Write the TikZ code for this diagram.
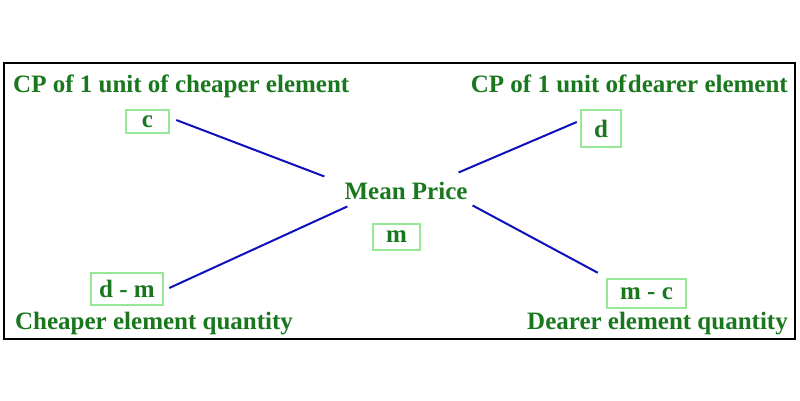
\documentclass[tikz,border=0pt]{standalone}
\usepackage{fontspec}
\setmainfont{Liberation Serif}
\definecolor{txtgreen}{RGB}{25,120,30}
\definecolor{boxgreen}{RGB}{150,232,150}
\definecolor{linkblue}{RGB}{15,15,190}
\begin{document}
\begin{tikzpicture}[x=1pt, y=-1pt]
\tikzstyle{heading} = [inner sep=0, text=txtgreen, font=\fontsize{25}{30}\selectfont\bfseries]
\tikzstyle{valbox}  = [rectangle, draw=boxgreen, line width=2.5pt, inner sep=0, text=txtgreen, font=\fontsize{25}{30}\selectfont\bfseries]
\tikzstyle{link}    = [draw=linkblue, line width=2pt]

\fill [white] (0,0) rectangle (800,400);
\useasboundingbox (0,0) rectangle (800,400);
\draw [line width=2pt] (4,63) rectangle (795,339);

\node (cheapcp) [heading, anchor=base west] at (13,92)  {CP of 1 unit of cheaper element};
\node (dearcp)  [heading, anchor=base east] at (788,92) {CP of 1 unit of\hspace{1.5pt}dearer element};
\node (mean)    [heading, anchor=base]      at (406,199) {Mean Price};
\node (cheapq)  [heading, anchor=base west] at (15,329)  {Cheaper element quantity};
\node (dearq)   [heading, anchor=base east] at (788,329) {Dearer element quantity};

\node (c)  [valbox, minimum width=43pt, minimum height=23pt] at (147.5,121.5) {c};
\node (d)  [valbox, minimum width=40pt, minimum height=37pt] at (601,128.5)   {d};
\node (m)  [valbox, minimum width=47pt, minimum height=26pt] at (396.5,237)   {m};
\node (dm) [valbox, minimum width=72pt, minimum height=32pt] at (127,289)     {d - m};
\node (mc) [valbox, minimum width=79pt, minimum height=29pt] at (646.5,293.5) {m - c};

\draw [link] ([shift={(6,-1.5)}]c.east)     -- ([shift={(-20,-5)}]mean.north west);
\draw [link] ([shift={(-9,-9)}]mean.north east) -- ([shift={(-3,-6.5)}]d.west);
\draw [link] ([shift={(5,-1)}]dm.east)      -- ([shift={(3,7)}]mean.south west);
\draw [link] ([shift={(5,6)}]mean.south east) -- ([shift={(-8,-5)}]mc.north west);
\end{tikzpicture}
\end{document}
